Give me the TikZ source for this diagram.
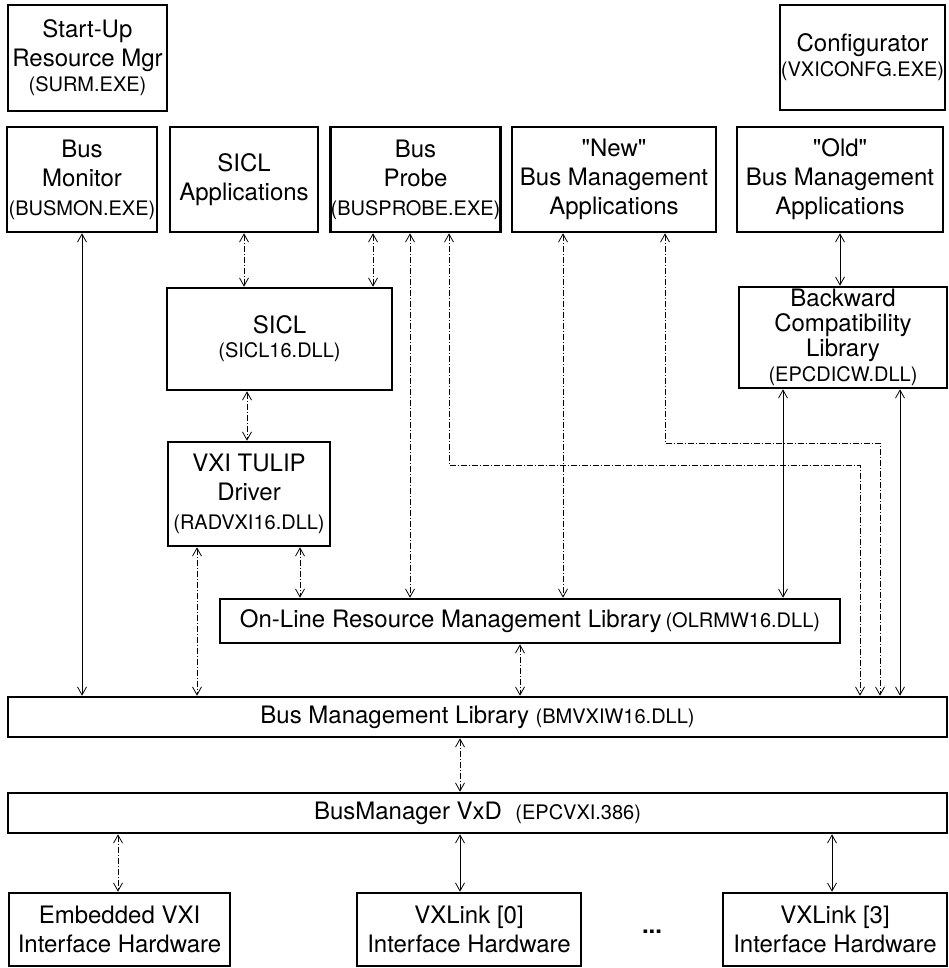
\documentclass[tikz,border=0pt]{standalone}
\usepackage{fontspec}
\setmainfont{TeX Gyre Heros}
\usetikzlibrary{arrows.meta}

\newcommand{\dllname}[1]{{\fontsize{20}{23}\selectfont #1}}

\begin{document}
\begin{tikzpicture}[
  x=1pt, y=-1pt,
  every node/.style={font=\fontsize{24}{29}\selectfont},
  box/.style={draw, line width=2.6pt, inner sep=0pt, align=center},
  solidlink/.style={{Straight Barb[length=8pt,width=9pt]}-{Straight Barb[length=8pt,width=9pt]},
                    line width=0.8pt},
  dotlink/.style={solidlink, dash pattern=on 6pt off 2pt on 1pt off 2pt},
]
\useasboundingbox (0,0) rectangle (949,968);

%% ── Stand-alone tools (top row) ──────────────────────────────────────────────
\node[box, minimum width=159pt, minimum height=106pt] (surm) at (87.5,58)
  {Start-Up\\Resource Mgr\\[-4pt]\dllname{(SURM.EXE)}};
\node[box, minimum width=165pt, minimum height=105pt] (config) at (862.5,57.5)
  {Configurator\\[-4pt]\dllname{(VXICONFG.EXE)}};

%% ── Applications ─────────────────────────────────────────────────────────────
\node[box, minimum width=150pt, minimum height=105pt] (busmon)  at (82,179.5)
  {Bus\\Monitor\\\dllname{(BUSMON.EXE)}};
\node[box, minimum width=148pt, minimum height=105pt] (siclapp) at (244,179.5)
  {SICL\\Applications};
\node[box, minimum width=163pt, minimum height=105pt] (probe)   at (415.5,179.5)
  {Bus\\Probe\\\dllname{(BUSPROBE.EXE)}};
\node[box, minimum width=204pt, minimum height=105pt] (newapp)  at (614,179.5)
  {\textquotedbl New\textquotedbl\\Bus Management\\Applications};
\node[box, minimum width=206pt, minimum height=105pt] (oldapp)  at (840,179.5)
  {\textquotedbl Old\textquotedbl\\Bus Management\\Applications};

%% ── Libraries and drivers ────────────────────────────────────────────────────
\node[box, minimum width=225pt, minimum height=102pt] (sicl) at (279.5,339)
  {SICL\\[-5pt]\dllname{(SICL16.DLL)}};
\node[box, minimum width=208pt, minimum height=101pt,
      font=\fontsize{24}{25}\selectfont] (backward) at (843,337.5)
  {Backward\\Compatibility\\Library\\\dllname{(EPCDICW.DLL)}};
\node[box, minimum width=162pt, minimum height=104pt] (tulip) at (249,494)
  {VXI TULIP\\Driver\\\dllname{(RADVXI16.DLL)}};
\node[box, minimum width=620pt, minimum height=44pt] (olrm) at (530,621)
  {On-Line Resource Management Library\,\dllname{(OLRMW16.DLL)}};
\node[box, minimum width=939pt, minimum height=40pt] (bml) at (477.5,717)
  {Bus Management Library \dllname{(BMVXIW16.DLL)}};
\node[box, minimum width=939pt, minimum height=40pt] (vxd) at (477.5,813)
  {BusManager VxD~ \dllname{(EPCVXI.386)}};

%% ── Hardware (bottom row) ────────────────────────────────────────────────────
\node[box, minimum width=221pt, minimum height=73pt] (embedded) at (119.5,929.5)
  {Embedded VXI\\Interface Hardware};
\node[box, minimum width=224pt, minimum height=73pt] (vxl0) at (469,929.5)
  {VXLink [0]\\Interface Hardware};
\node (dots) at (652,932) {\textbf{...}};
\node[box, minimum width=224pt, minimum height=73pt] (vxl3) at (835,929.5)
  {VXLink [3]\\Interface Hardware};

%% ── Connectors ───────────────────────────────────────────────────────────────
\coordinate (probebend) at (860,465);
\coordinate (newbend)   at (880,443);

% applications → SICL / OLRM / BML
\draw[solidlink] (busmon.south) -- (busmon.south |- bml.north);
\draw[dotlink] (siclapp.south) -- (siclapp.south |- sicl.north);
\draw[dotlink] (373,0 |- probe.south) -- (373,0 |- sicl.north);
\draw[dotlink] (410,0 |- probe.south) -- (410,0 |- olrm.north);
\draw[dotlink] (449,0 |- probe.south) |- (probebend) -- (probebend |- bml.north);
\draw[dotlink] (563,0 |- newapp.south) -- (563,0 |- olrm.north);
\draw[dotlink] (665,0 |- newapp.south) |- (newbend) -- (newbend |- bml.north);

% old applications through the compatibility layer
\draw[solidlink] (oldapp.south) -- (oldapp.south |- backward.north);
\draw[solidlink] (783,0 |- backward.south) -- (783,0 |- olrm.north);
\draw[solidlink] (900,0 |- backward.south) -- (900,0 |- bml.north);

% SICL chain
\draw[dotlink] (247,0 |- sicl.south) -- (247,0 |- tulip.north);
\draw[dotlink] (197,0 |- tulip.south) -- (197,0 |- bml.north);
\draw[dotlink] (300,0 |- tulip.south) -- (300,0 |- olrm.north);

% library stack → VxD
\draw[dotlink] (520,0 |- olrm.south) -- (520,0 |- bml.north);
\draw[dotlink] (460,0 |- bml.south) -- (460,0 |- vxd.north);

% VxD → hardware
\draw[dotlink]   (118,0 |- vxd.south) -- (118,0 |- embedded.north);
\draw[solidlink] (460,0 |- vxd.south) -- (460,0 |- vxl0.north);
\draw[solidlink] (832,0 |- vxd.south) -- (832,0 |- vxl3.north);

\end{tikzpicture}
\end{document}
